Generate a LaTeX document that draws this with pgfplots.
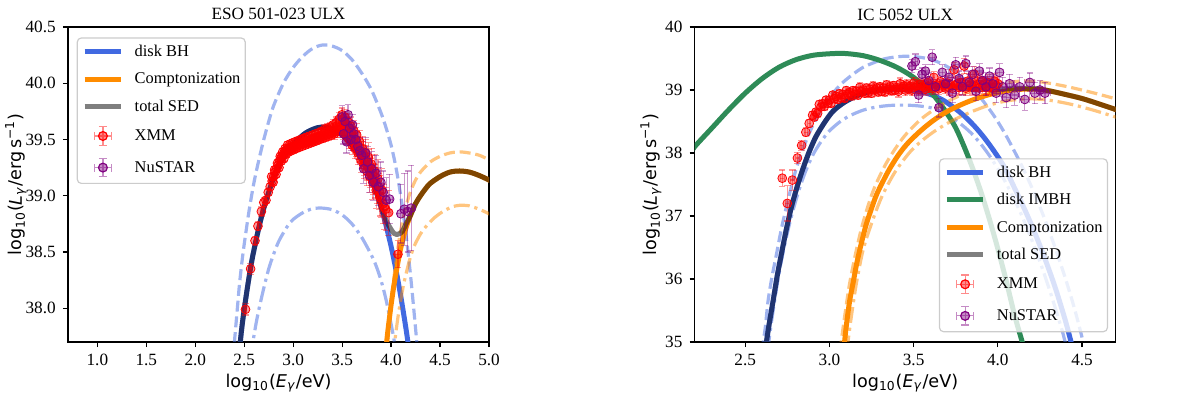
\documentclass[border=0pt]{standalone}
\usepackage{fontspec}
\setmainfont{Liberation Serif}
\newfontfamily\dejavu{DejaVu Sans}
\usepackage{pgfplots}
\pgfplotsset{compat=1.18}

\definecolor{dblue}{HTML}{4169E1}
\definecolor{dgreen}{HTML}{2E8B57}
\definecolor{dorange}{HTML}{FF8C00}
\definecolor{dpurple}{HTML}{800080}
\definecolor{legframe}{HTML}{CCCCCC}

\newcommand{\fs}{\fontsize{8.6}{10.3}\selectfont}
\newcommand{\fl}{\fontsize{8.2}{9.8}\selectfont}
\newcommand{\fa}{\fontsize{8.8}{10.5}\selectfont}

\pgfplotsset{
  sed/.style={
    scale only axis, width=210.5pt, height=157.5pt, anchor=south west,
    axis line style={line width=0.6pt}, tick style={line width=0.6pt, black},
    tick align=outside, xtick pos=lower, ytick pos=left, major tick length=2.6pt,
    tick label style={font=\fs}, label style={font=\dejavu\fa},
    every axis title/.style={at={(0.5,1)}, anchor=base, yshift=3.5pt, font=\fs},
    xlabel style={at={(axis description cs:0.5,-0.130)}, anchor=center},
    /pgf/number format/assume math mode=true,
    legend cell align=left,
    legend style={font=\fl, draw=legframe, line width=0.6pt, rounded corners=2pt,
      fill=white, fill opacity=0.8, text opacity=1, draw opacity=1,
      inner xsep=2.4pt, inner ysep=3pt, row sep=6pt,
      nodes={inner sep=0pt, text height=6.2pt, text depth=1.5pt},
      /tikz/every odd column/.append style={column sep=5.5pt}},
    legend image code/.code={\draw[##1] (0pt,0pt) -- (18.3pt,0pt);},
  },
  mod/.style={line width=2.5pt, no markers, smooth, line join=round},
  tot/.style={line width=2.5pt, no markers, smooth, line join=round, draw=black, draw opacity=0.5},
  dsh/.style={line width=1.6pt, no markers, smooth, draw opacity=0.5, dash pattern=on 5.5pt off 2.4pt, forget plot},
  dsd/.style={line width=1.6pt, no markers, smooth, draw opacity=0.5, dash pattern=on 8pt off 2.4pt on 1.6pt off 2.4pt, forget plot},
  obs/.style={only marks, mark=*, mark size=2.2pt, color=#1,
    mark options={draw=none, fill=#1, fill opacity=0.4},
    error bars/x dir=both, error bars/x explicit,
    error bars/y dir=both, error bars/y explicit,
    error bars/error bar style={#1, draw opacity=0.4, line width=0.6pt},
    error bars/error mark options={#1, draw opacity=0.4, line width=0.6pt, mark size=1.6pt, rotate=90},
    legend image code/.code={
      \draw[#1, draw opacity=0.45, line width=0.6pt]
        (4.9pt,0pt) -- (13.4pt,0pt) (4.9pt,-2pt) -- (4.9pt,2pt) (13.4pt,-2pt) -- (13.4pt,2pt)
        (9.15pt,-4.6pt) -- (9.15pt,4.6pt) (7.15pt,-4.6pt) -- (11.15pt,-4.6pt) (7.15pt,4.6pt) -- (11.15pt,4.6pt);
      \fill[#1, fill opacity=0.45] (9.15pt,0pt) circle (2.2pt);},
  },
}

\begin{document}
\begin{tikzpicture}
\path[use as bounding box] (0,0) rectangle (600pt,197pt);

% ---------------- left panel ----------------
\begin{axis}[sed, at={(34pt,26pt)},
  xmin=0.7, xmax=5.0, ymin=37.7, ymax=40.5,
  xtick={1,1.5,2,2.5,3,3.5,4,4.5,5}, ytick={38,38.5,39,39.5,40,40.5},
  xticklabel style={/pgf/number format/.cd, fixed, fixed zerofill, precision=1},
  yticklabel style={/pgf/number format/.cd, fixed, fixed zerofill, precision=1},
  title={ESO 501-023 ULX},
  xlabel={log\textsubscript{10}(\textit{E}\textsubscript{\textit{γ}}/eV)},
  ylabel={log\textsubscript{10}(\textit{L}\textsubscript{\textit{γ}}/erg\,s\textsuperscript{−1})},
  ylabel style={at={(axis description cs:-0.124,0.5)}, anchor=center},
  legend style={at={(0.0207,0.967)}, anchor=north west}]

\addplot[dsh, dblue] coordinates {(2.39,37.55) (2.40,37.70) (2.425,37.95) (2.45,38.20) (2.475,38.40) (2.50,38.57) (2.55,38.87) (2.60,39.12) (2.65,39.32) (2.70,39.50) (2.75,39.66) (2.80,39.80) (2.90,40.00) (3.00,40.14) (3.10,40.24) (3.20,40.31) (3.30,40.34) (3.40,40.33) (3.50,40.29) (3.60,40.21) (3.70,40.09) (3.80,39.94) (3.90,39.73) (3.95,39.60) (4.00,39.45) (4.05,39.25) (4.10,38.99) (4.15,38.67) (4.20,38.28) (4.25,37.82) (4.27,37.62)};
\addplot[dsd, dblue] coordinates {(2.58,37.55) (2.59,37.70) (2.62,37.86) (2.65,37.99) (2.70,38.18) (2.75,38.35) (2.80,38.48) (2.85,38.59) (2.90,38.67) (2.95,38.74) (3.00,38.79) (3.10,38.85) (3.20,38.885) (3.30,38.89) (3.40,38.875) (3.50,38.83) (3.60,38.75) (3.70,38.63) (3.80,38.47) (3.85,38.37) (3.90,38.24) (3.95,38.07) (4.00,37.86) (4.03,37.72) (4.05,37.60)};
\addplot[mod, dblue] coordinates {(2.45,37.55) (2.46,37.70) (2.48,37.86) (2.50,37.99) (2.525,38.14) (2.55,38.28) (2.575,38.41) (2.60,38.52) (2.65,38.72) (2.70,38.89) (2.75,39.03) (2.80,39.16) (2.85,39.26) (2.90,39.34) (2.95,39.41) (3.00,39.46) (3.05,39.50) (3.10,39.54) (3.15,39.57) (3.20,39.59) (3.25,39.605) (3.30,39.61) (3.35,39.605) (3.40,39.59) (3.45,39.57) (3.50,39.54) (3.55,39.50) (3.60,39.45) (3.65,39.39) (3.70,39.32) (3.75,39.24) (3.80,39.14) (3.85,39.03) (3.90,38.89) (3.95,38.73) (4.00,38.55) (4.05,38.34) (4.10,38.10) (4.15,37.83) (4.18,37.65) (4.19,37.58)};
\addlegendentry{disk BH}
\addplot[dsh, dorange] coordinates {(3.95,37.55) (3.965,37.70) (3.98,37.86) (4.00,38.05) (4.03,38.28) (4.06,38.48) (4.10,38.70) (4.15,38.90) (4.20,39.04) (4.25,39.14) (4.30,39.21) (4.40,39.30) (4.50,39.35) (4.60,39.38) (4.70,39.39) (4.80,39.38) (4.90,39.36) (5.00,39.32) (5.02,39.31)};
\addplot[dsd, dorange] coordinates {(4.02,37.55) (4.04,37.72) (4.07,37.92) (4.10,38.08) (4.13,38.22) (4.18,38.40) (4.23,38.54) (4.30,38.66) (4.36,38.73) (4.45,38.81) (4.53,38.86) (4.62,38.90) (4.70,38.915) (4.80,38.91) (4.90,38.88) (5.00,38.84) (5.02,38.83)};
\addplot[mod, dorange] coordinates {(3.94,37.55) (3.955,37.70) (3.97,37.82) (4.00,38.03) (4.03,38.21) (4.06,38.36) (4.10,38.54) (4.15,38.71) (4.20,38.83) (4.25,38.93) (4.30,39.00) (4.35,39.06) (4.40,39.11) (4.50,39.17) (4.60,39.21) (4.70,39.22) (4.80,39.21) (4.90,39.18) (5.00,39.14) (5.02,39.13)};
\addlegendentry{Comptonization}
\addplot[tot] coordinates {(2.45,37.55) (2.46,37.70) (2.48,37.86) (2.50,37.99) (2.525,38.14) (2.55,38.28) (2.575,38.41) (2.60,38.52) (2.65,38.72) (2.70,38.89) (2.75,39.03) (2.80,39.16) (2.85,39.26) (2.90,39.34) (2.95,39.41) (3.00,39.46) (3.05,39.50) (3.10,39.54) (3.15,39.57) (3.20,39.59) (3.25,39.605) (3.30,39.61) (3.35,39.605) (3.40,39.59) (3.45,39.57) (3.50,39.54) (3.55,39.50) (3.60,39.45) (3.65,39.39) (3.70,39.32) (3.75,39.24) (3.80,39.14) (3.85,39.03) (3.90,38.90) (3.95,38.78) (4.00,38.70) (4.03,38.665) (4.06,38.655) (4.09,38.665) (4.12,38.69) (4.15,38.745) (4.20,38.83) (4.25,38.93) (4.30,39.00) (4.35,39.06) (4.40,39.11) (4.50,39.17) (4.60,39.21) (4.70,39.22) (4.80,39.21) (4.90,39.18) (5.00,39.14) (5.02,39.13)};
\addlegendentry{total SED}

\addplot[obs=red] table[row sep=\\, x=x, y=y, x error=ex, y error=ey] {
x y ex ey\\
2.513 37.99 0.008 0.05\\ 2.565 38.35 0.008 0.05\\ 2.610 38.60 0.008 0.04\\ 2.640 38.73 0.008 0.04\\
2.675 38.86 0.008 0.04\\ 2.700 38.94 0.007 0.04\\ 2.722 38.96 0.007 0.03\\ 2.745 39.03 0.007 0.03\\
2.765 39.08 0.007 0.03\\ 2.785 39.13 0.007 0.03\\ 2.800 39.17 0.007 0.03\\ 2.815 39.21 0.007 0.03\\
2.830 39.24 0.007 0.03\\ 2.845 39.27 0.007 0.03\\ 2.860 39.31 0.007 0.03\\ 2.872 39.33 0.007 0.03\\
2.885 39.35 0.007 0.03\\ 2.898 39.36 0.007 0.03\\ 2.910 39.39 0.007 0.03\\ 2.922 39.38 0.007 0.03\\
2.935 39.41 0.007 0.03\\ 2.948 39.42 0.007 0.03\\ 2.960 39.41 0.007 0.03\\ 2.972 39.43 0.007 0.03\\
2.985 39.42 0.007 0.03\\ 2.998 39.44 0.007 0.03\\ 3.012 39.43 0.007 0.03\\ 3.026 39.45 0.007 0.03\\
3.040 39.44 0.007 0.03\\ 3.055 39.46 0.007 0.03\\ 3.070 39.45 0.007 0.03\\ 3.085 39.47 0.007 0.03\\
3.100 39.46 0.007 0.03\\ 3.115 39.48 0.007 0.03\\ 3.130 39.47 0.007 0.03\\ 3.145 39.49 0.007 0.03\\
3.160 39.48 0.007 0.03\\ 3.175 39.50 0.007 0.03\\ 3.190 39.49 0.007 0.03\\ 3.205 39.51 0.007 0.03\\
3.220 39.50 0.007 0.03\\ 3.235 39.52 0.007 0.03\\ 3.250 39.51 0.007 0.03\\ 3.265 39.53 0.007 0.03\\
3.280 39.52 0.007 0.03\\ 3.295 39.54 0.007 0.03\\ 3.310 39.53 0.007 0.03\\ 3.325 39.56 0.007 0.04\\
3.340 39.54 0.007 0.04\\ 3.355 39.57 0.007 0.04\\ 3.370 39.55 0.007 0.04\\ 3.385 39.58 0.007 0.04\\
3.400 39.56 0.007 0.04\\ 3.415 39.60 0.007 0.04\\ 3.430 39.57 0.007 0.04\\ 3.445 39.62 0.008 0.05\\
3.460 39.59 0.008 0.05\\ 3.475 39.65 0.008 0.05\\ 3.490 39.60 0.008 0.05\\ 3.505 39.68 0.008 0.06\\
3.520 39.58 0.008 0.06\\ 3.535 39.64 0.008 0.06\\ 3.550 39.55 0.009 0.07\\ 3.565 39.62 0.009 0.07\\
3.580 39.52 0.009 0.07\\ 3.595 39.57 0.009 0.08\\ 3.610 39.48 0.010 0.08\\ 3.625 39.52 0.010 0.08\\
3.640 39.44 0.010 0.09\\ 3.655 39.47 0.011 0.09\\ 3.670 39.40 0.011 0.10\\ 3.685 39.42 0.011 0.10\\
3.700 39.35 0.012 0.10\\ 3.715 39.37 0.012 0.11\\ 3.730 39.30 0.012 0.12\\ 3.745 39.33 0.013 0.12\\
3.760 39.26 0.013 0.12\\ 3.775 39.28 0.014 0.13\\ 3.790 39.20 0.014 0.13\\ 3.805 39.22 0.015 0.14\\
3.820 39.15 0.015 0.14\\ 3.838 39.13 0.016 0.15\\ 3.856 39.08 0.017 0.15\\ 3.875 39.04 0.018 0.16\\
3.895 38.98 0.019 0.17\\ 3.918 38.93 0.020 0.18\\ 3.945 38.88 0.022 0.19\\ 3.975 38.85 0.025 0.20\\
4.070 38.48 0.030 0.12\\
2.780 39.17 0.007 0.03\\ 2.795 39.12 0.007 0.03\\ 2.810 39.23 0.007 0.03\\ 2.825 39.19 0.007 0.03\\
2.840 39.29 0.007 0.03\\ 2.855 39.25 0.007 0.03\\ 2.868 39.35 0.007 0.03\\ 2.880 39.31 0.007 0.03\\
2.893 39.39 0.007 0.03\\ 2.905 39.33 0.007 0.03\\ 2.918 39.42 0.007 0.03\\ 2.930 39.37 0.007 0.03\\
2.943 39.45 0.007 0.03\\ 2.955 39.39 0.007 0.03\\ 2.968 39.46 0.007 0.03\\ 2.980 39.40 0.007 0.03\\
2.993 39.47 0.007 0.03\\ 3.005 39.41 0.007 0.03\\ 3.020 39.48 0.007 0.03\\ 3.033 39.42 0.007 0.03\\
3.048 39.49 0.007 0.03\\ 3.062 39.43 0.007 0.03\\ 3.078 39.50 0.007 0.03\\ 3.092 39.44 0.007 0.03\\
3.108 39.51 0.007 0.03\\ 3.122 39.45 0.007 0.03\\ 3.138 39.52 0.007 0.03\\ 3.152 39.46 0.007 0.03\\
3.168 39.53 0.007 0.03\\ 3.182 39.47 0.007 0.03\\ 3.198 39.54 0.007 0.03\\ 3.212 39.48 0.007 0.03\\
3.228 39.55 0.007 0.03\\ 3.242 39.49 0.007 0.03\\ 3.258 39.56 0.007 0.03\\ 3.272 39.50 0.007 0.03\\
3.288 39.57 0.007 0.04\\ 3.302 39.51 0.007 0.04\\ 3.318 39.59 0.007 0.04\\ 3.332 39.52 0.007 0.04\\
3.348 39.60 0.007 0.04\\ 3.362 39.53 0.007 0.04\\ 3.378 39.61 0.007 0.04\\ 3.392 39.54 0.007 0.04\\
3.408 39.63 0.008 0.05\\ 3.422 39.55 0.008 0.05\\ 3.438 39.65 0.008 0.05\\ 3.452 39.57 0.008 0.05\\
3.468 39.68 0.008 0.06\\ 3.482 39.58 0.008 0.06\\ 3.498 39.72 0.008 0.06\\ 3.512 39.56 0.008 0.06\\
3.528 39.70 0.009 0.07\\ 3.542 39.53 0.009 0.07\\ 3.558 39.66 0.009 0.07\\ 3.572 39.50 0.009 0.08\\
3.588 39.62 0.010 0.08\\ 3.602 39.45 0.010 0.08\\ 3.618 39.58 0.010 0.09\\ 3.632 39.42 0.010 0.09\\
3.648 39.54 0.011 0.10\\ 3.662 39.38 0.011 0.10\\ 3.678 39.48 0.011 0.10\\ 3.692 39.32 0.012 0.11\\
3.708 39.42 0.012 0.11\\ 3.722 39.27 0.012 0.12\\ 3.738 39.38 0.013 0.12\\ 3.752 39.22 0.013 0.13\\
3.768 39.34 0.014 0.13\\ 3.782 39.17 0.014 0.14\\ 3.798 39.28 0.015 0.14\\ 3.812 39.12 0.015 0.15\\
3.830 39.22 0.016 0.15\\ 3.848 39.05 0.017 0.16\\ 3.866 39.15 0.018 0.17\\ 3.885 39.00 0.019 0.18\\
3.905 39.05 0.020 0.19\\ 3.930 38.90 0.021 0.20\\
};
\addlegendentry{XMM}
\addplot[obs=dpurple] table[row sep=\\, x=x, y=y, x error=ex, y error=ey] {
x y ex ey\\
3.500 39.70 0.015 0.10\\ 3.515 39.55 0.015 0.09\\ 3.530 39.66 0.015 0.09\\ 3.545 39.48 0.015 0.10\\
3.560 39.72 0.015 0.09\\ 3.575 39.60 0.016 0.08\\ 3.590 39.50 0.016 0.10\\ 3.605 39.63 0.016 0.09\\
3.620 39.55 0.017 0.10\\ 3.640 39.50 0.017 0.11\\ 3.660 39.44 0.018 0.12\\ 3.680 39.40 0.018 0.12\\
3.700 39.36 0.019 0.12\\ 3.720 39.24 0.019 0.13\\ 3.740 39.38 0.020 0.14\\ 3.760 39.30 0.020 0.14\\
3.780 39.18 0.021 0.15\\ 3.800 39.24 0.022 0.15\\ 3.820 39.12 0.023 0.16\\ 3.845 39.20 0.024 0.16\\
3.870 39.08 0.025 0.17\\ 3.895 39.12 0.026 0.18\\ 3.920 39.03 0.028 0.19\\ 3.950 38.96 0.030 0.20\\
3.985 38.97 0.032 0.22\\ 4.100 38.84 0.035 0.26\\ 4.135 38.88 0.035 0.32\\ 4.170 38.86 0.038 0.36\\
4.205 38.89 0.040 0.38\\
};
\addlegendentry{NuSTAR}
\end{axis}

% ---------------- right panel ----------------
\begin{axis}[sed, at={(347.35pt,26pt)},
  xmin=2.2, xmax=4.7, ymin=35, ymax=40,
  xtick={2.5,3,3.5,4,4.5}, ytick={35,36,37,38,39,40},
  xticklabel style={/pgf/number format/.cd, fixed, fixed zerofill, precision=1},
  title={IC 5052 ULX},
  xlabel={log\textsubscript{10}(\textit{E}\textsubscript{\textit{γ}}/eV)},
  ylabel={log\textsubscript{10}(\textit{L}\textsubscript{\textit{γ}}/erg\,s\textsuperscript{−1})},
  ylabel style={at={(axis description cs:-0.104,0.5)}, anchor=center},
  legend style={at={(0.9817,0.0308)}, anchor=south east}]

\addplot[dsh, dblue] coordinates {(2.60,34.85) (2.607,35.00) (2.62,35.25) (2.636,35.66) (2.66,36.05) (2.686,36.40) (2.715,36.80) (2.745,37.15) (2.775,37.48) (2.804,37.76) (2.834,38.00) (2.864,38.21) (2.90,38.43) (2.943,38.63) (2.98,38.80) (3.02,38.95) (3.08,39.12) (3.14,39.25) (3.20,39.36) (3.26,39.43) (3.32,39.49) (3.38,39.52) (3.44,39.535) (3.50,39.53) (3.56,39.51) (3.62,39.47) (3.68,39.40) (3.74,39.30) (3.80,39.17) (3.86,39.00) (3.92,38.80) (3.98,38.58) (4.04,38.32) (4.10,38.02) (4.16,37.70) (4.22,37.34) (4.28,36.94) (4.34,36.50) (4.40,36.02) (4.45,35.58) (4.49,35.18) (4.52,34.85)};
\addplot[dsd, dblue] coordinates {(2.635,34.85) (2.64,35.00) (2.655,35.30) (2.68,35.75) (2.705,36.15) (2.735,36.55) (2.77,36.95) (2.81,37.33) (2.85,37.65) (2.90,37.96) (2.95,38.18) (3.00,38.35) (3.06,38.49) (3.12,38.59) (3.20,38.68) (3.28,38.73) (3.36,38.755) (3.44,38.76) (3.52,38.75) (3.60,38.72) (3.66,38.66) (3.72,38.57) (3.78,38.46) (3.84,38.32) (3.90,38.14) (3.96,37.92) (4.02,37.66) (4.08,37.36) (4.14,37.02) (4.20,36.63) (4.26,36.20) (4.32,35.72) (4.38,35.20) (4.40,35.00) (4.42,34.85)};
\addplot[mod, dblue] coordinates {(2.62,34.85) (2.626,35.00) (2.64,35.25) (2.666,35.66) (2.69,36.05) (2.715,36.40) (2.745,36.80) (2.775,37.15) (2.81,37.48) (2.844,37.76) (2.88,38.02) (2.92,38.26) (2.97,38.48) (3.02,38.66) (3.08,38.79) (3.14,38.88) (3.20,38.945) (3.26,38.98) (3.32,39.00) (3.38,39.01) (3.44,39.005) (3.50,38.99) (3.56,38.96) (3.62,38.91) (3.68,38.83) (3.74,38.72) (3.80,38.59) (3.86,38.43) (3.92,38.24) (3.98,38.02) (4.04,37.77) (4.10,37.44) (4.16,37.10) (4.22,36.73) (4.28,36.32) (4.34,35.87) (4.40,35.35) (4.435,35.00) (4.45,34.85)};
\addlegendentry{disk BH}
\addplot[mod, dgreen] coordinates {(2.18,38.00) (2.20,38.10) (2.30,38.39) (2.40,38.68) (2.50,38.95) (2.60,39.18) (2.70,39.36) (2.80,39.48) (2.90,39.55) (3.00,39.575) (3.09,39.58) (3.20,39.545) (3.30,39.47) (3.40,39.36) (3.50,39.20) (3.60,38.97) (3.65,38.81) (3.70,38.62) (3.75,38.40) (3.80,38.10) (3.85,37.76) (3.90,37.38) (3.95,36.95) (4.00,36.48) (4.05,35.97) (4.10,35.42) (4.145,35.00) (4.16,34.85)};
\addlegendentry{disk IMBH}
\addplot[dsh, dorange] coordinates {(3.065,34.85) (3.07,35.00) (3.09,35.40) (3.12,35.93) (3.16,36.46) (3.20,36.90) (3.26,37.40) (3.34,37.85) (3.44,38.25) (3.55,38.55) (3.67,38.77) (3.79,38.93) (3.90,39.04) (4.01,39.10) (4.13,39.14) (4.25,39.13) (4.40,39.06) (4.56,38.96) (4.70,38.86) (4.72,38.845)};
\addplot[dsd, dorange] coordinates {(3.105,34.85) (3.11,35.00) (3.13,35.40) (3.16,35.93) (3.20,36.46) (3.25,36.88) (3.31,37.30) (3.39,37.70) (3.49,38.05) (3.60,38.30) (3.72,38.50) (3.84,38.65) (3.95,38.76) (4.06,38.83) (4.18,38.86) (4.30,38.84) (4.44,38.77) (4.58,38.67) (4.70,38.57) (4.72,38.555)};
\addplot[mod, dorange] coordinates {(3.085,34.85) (3.09,35.00) (3.10,35.25) (3.12,35.65) (3.14,35.93) (3.16,36.22) (3.18,36.46) (3.20,36.68) (3.22,36.88) (3.25,37.12) (3.28,37.34) (3.32,37.56) (3.36,37.76) (3.41,37.97) (3.46,38.14) (3.52,38.30) (3.58,38.44) (3.64,38.56) (3.70,38.66) (3.76,38.74) (3.82,38.81) (3.88,38.87) (3.94,38.92) (4.00,38.96) (4.06,38.99) (4.13,39.01) (4.20,39.015) (4.25,39.01) (4.30,38.99) (4.40,38.93) (4.50,38.865) (4.60,38.78) (4.70,38.69) (4.72,38.67)};
\addlegendentry{Comptonization}
\addplot[tot] coordinates {(2.62,34.85) (2.626,35.00) (2.64,35.25) (2.666,35.66) (2.69,36.05) (2.715,36.40) (2.745,36.80) (2.775,37.15) (2.81,37.48) (2.844,37.76) (2.88,38.02) (2.92,38.26) (2.97,38.48) (3.02,38.66) (3.08,38.79) (3.14,38.88) (3.20,38.945) (3.26,38.99) (3.32,39.02) (3.38,39.04) (3.44,39.06) (3.50,39.07) (3.56,39.075) (3.62,39.07) (3.68,39.06) (3.74,39.045) (3.80,39.03) (3.86,39.02) (3.92,39.01) (3.98,39.01) (4.04,39.015) (4.10,39.025) (4.16,39.025) (4.22,39.02) (4.30,38.99) (4.40,38.93) (4.50,38.865) (4.60,38.78) (4.70,38.69) (4.72,38.67)};
\addlegendentry{total SED}

\addplot[obs=red] table[row sep=\\, x=x, y=y, x error=ex, y error=ey] {
x y ex ey\\
2.720 37.60 0.012 0.13\\ 2.750 37.20 0.012 0.28\\ 2.780 37.57 0.012 0.16\\ 2.810 37.92 0.010 0.09\\
2.835 38.12 0.010 0.08\\ 2.860 38.33 0.010 0.07\\ 2.880 38.47 0.009 0.06\\
2.90 38.60 0.005 0.06\\ 2.91 38.57 0.005 0.06\\ 2.92 38.65 0.005 0.06\\ 2.93 38.63 0.005 0.06\\
2.94 38.77 0.005 0.06\\ 2.95 38.73 0.005 0.06\\ 2.96 38.78 0.005 0.06\\ 2.97 38.74 0.005 0.06\\
2.98 38.84 0.005 0.06\\ 2.99 38.79 0.005 0.06\\ 3.00 38.84 0.005 0.06\\ 3.01 38.79 0.005 0.06\\
3.02 38.92 0.005 0.06\\ 3.03 38.86 0.005 0.06\\ 3.04 38.90 0.005 0.06\\ 3.05 38.85 0.005 0.06\\
3.06 38.94 0.005 0.06\\ 3.07 38.88 0.005 0.06\\ 3.08 38.93 0.005 0.06\\ 3.09 38.87 0.005 0.06\\
3.10 38.99 0.005 0.07\\ 3.11 38.93 0.005 0.07\\ 3.12 38.96 0.005 0.07\\ 3.13 38.91 0.005 0.07\\
3.14 38.99 0.005 0.07\\ 3.15 38.93 0.005 0.07\\ 3.16 38.98 0.005 0.07\\ 3.17 38.92 0.005 0.07\\
3.18 39.04 0.005 0.07\\ 3.19 38.97 0.005 0.07\\ 3.20 39.00 0.005 0.07\\ 3.21 38.95 0.005 0.07\\
3.22 39.03 0.005 0.07\\ 3.23 38.96 0.005 0.07\\ 3.24 39.01 0.005 0.07\\ 3.25 38.95 0.005 0.07\\
3.26 39.06 0.005 0.07\\ 3.27 39.00 0.005 0.07\\ 3.28 39.03 0.005 0.07\\ 3.29 38.97 0.005 0.07\\
3.30 39.05 0.005 0.07\\ 3.31 38.98 0.005 0.07\\ 3.32 39.03 0.005 0.07\\ 3.33 38.97 0.005 0.07\\
3.34 39.08 0.005 0.07\\ 3.35 39.01 0.005 0.07\\ 3.36 39.05 0.005 0.07\\ 3.37 38.99 0.005 0.07\\
3.38 39.07 0.005 0.07\\ 3.39 39.00 0.005 0.07\\ 3.40 39.04 0.005 0.09\\ 3.41 38.98 0.005 0.09\\
3.42 39.10 0.005 0.09\\ 3.43 39.03 0.005 0.09\\ 3.44 39.06 0.005 0.09\\ 3.45 39.00 0.005 0.09\\
3.46 39.08 0.005 0.09\\ 3.47 39.02 0.005 0.09\\ 3.48 39.06 0.005 0.09\\ 3.49 39.00 0.005 0.09\\
3.50 39.11 0.005 0.09\\ 3.51 39.04 0.005 0.09\\ 3.52 39.07 0.005 0.09\\ 3.53 39.01 0.005 0.09\\
3.54 39.09 0.005 0.09\\ 3.55 39.03 0.005 0.09\\ 3.56 39.07 0.005 0.09\\ 3.57 39.01 0.005 0.09\\
3.58 39.12 0.005 0.09\\ 3.59 39.05 0.005 0.09\\ 3.60 39.08 0.005 0.09\\ 3.61 39.02 0.005 0.09\\
3.62 39.20 0.005 0.09\\ 3.63 39.04 0.005 0.09\\ 3.64 39.08 0.005 0.09\\ 3.65 39.02 0.005 0.09\\
3.66 39.13 0.005 0.09\\ 3.67 39.06 0.005 0.09\\ 3.68 39.09 0.005 0.09\\ 3.69 39.03 0.005 0.09\\
3.70 39.11 0.005 0.12\\ 3.71 39.04 0.005 0.12\\ 3.72 39.08 0.005 0.12\\ 3.73 39.03 0.005 0.12\\
3.74 39.32 0.005 0.12\\ 3.75 39.07 0.005 0.12\\ 3.76 39.10 0.005 0.12\\ 3.77 39.04 0.005 0.12\\
3.78 39.12 0.005 0.12\\ 3.79 39.05 0.005 0.12\\ 3.80 39.38 0.005 0.12\\ 3.81 39.03 0.005 0.12\\
3.82 39.14 0.005 0.12\\ 3.83 39.07 0.005 0.12\\ 3.84 39.10 0.005 0.12\\ 3.85 39.04 0.005 0.12\\
3.86 39.25 0.005 0.12\\ 3.87 39.05 0.005 0.12\\ 3.88 39.09 0.005 0.12\\ 3.89 39.03 0.005 0.12\\
3.90 39.14 0.005 0.12\\ 3.91 39.07 0.005 0.12\\ 3.92 39.10 0.005 0.12\\ 3.93 39.04 0.005 0.12\\
3.94 39.12 0.005 0.12\\ 3.95 39.05 0.005 0.12\\ 3.96 39.09 0.005 0.12\\ 3.97 39.03 0.005 0.12\\
3.98 39.14 0.005 0.12\\ 3.99 39.07 0.005 0.12\\ 4.00 39.10 0.005 0.12\\
};
\addlegendentry{XMM}
\addplot[obs=dpurple] table[row sep=\\, x=x, y=y, x error=ex, y error=ey] {
x y ex ey\\
3.490 39.38 0.015 0.10\\ 3.510 39.45 0.015 0.12\\ 3.530 38.92 0.015 0.12\\ 3.550 39.25 0.016 0.10\\
3.570 39.30 0.016 0.10\\ 3.590 39.15 0.016 0.12\\ 3.610 39.52 0.017 0.12\\ 3.630 39.05 0.017 0.12\\
3.650 38.72 0.017 0.15\\ 3.670 39.28 0.018 0.12\\ 3.690 39.10 0.018 0.12\\ 3.710 39.20 0.018 0.12\\
3.730 38.95 0.019 0.15\\ 3.750 39.40 0.019 0.12\\ 3.770 39.18 0.019 0.12\\ 3.790 39.05 0.020 0.13\\
3.810 39.42 0.020 0.12\\ 3.830 39.12 0.020 0.13\\ 3.850 39.25 0.021 0.12\\ 3.870 38.98 0.021 0.15\\
3.890 39.30 0.022 0.12\\ 3.910 39.15 0.022 0.13\\ 3.930 39.05 0.022 0.14\\ 3.950 39.22 0.023 0.13\\
3.970 39.10 0.023 0.14\\ 3.990 38.95 0.024 0.15\\ 4.010 39.28 0.024 0.14\\ 4.030 39.05 0.025 0.15\\
4.050 38.88 0.025 0.16\\ 4.070 39.10 0.026 0.15\\ 4.100 38.92 0.027 0.16\\ 4.130 39.05 0.028 0.15\\
4.160 38.85 0.029 0.17\\ 4.190 39.12 0.030 0.15\\ 4.220 38.95 0.031 0.17\\ 4.250 39.00 0.032 0.15\\
4.280 38.95 0.033 0.17\\
};
\addlegendentry{NuSTAR}
\end{axis}
\end{tikzpicture}
\end{document}
